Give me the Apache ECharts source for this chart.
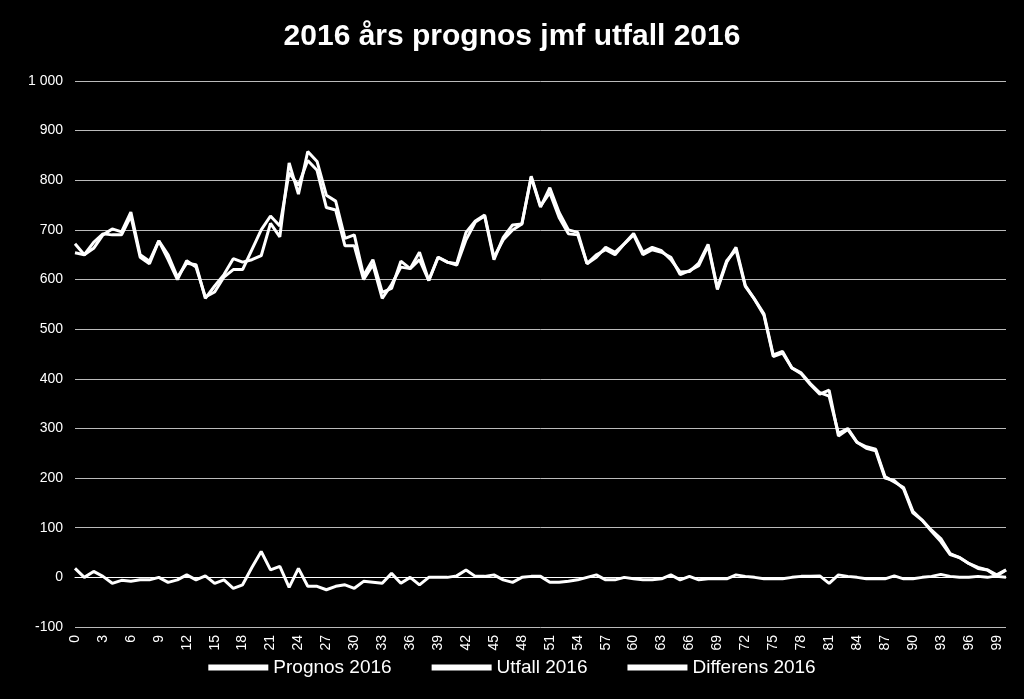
<!DOCTYPE html>
<html><head><meta charset="utf-8">
<script src="https://cdn.jsdelivr.net/npm/echarts@6/dist/echarts.min.js"></script>
<style>html,body{margin:0;background:#000}#c{width:1024px;height:699px}</style>
</head><body><div id="c"></div>
<script>
var categories = [];
for (var i = 0; i <= 100; i++) categories.push(String(i));

var prognos = [654,650,663,690,702,696,736,650,637,678,650,605,633,630,562,587,610,642,635,640,
  648,713,686,835,772,858,838,770,758,683,690,608,640,574,582,637,622,655,598,645,
  635,629,680,716,728,640,685,710,712,806,746,785,735,700,695,632,645,665,655,672,
  693,655,665,658,640,615,616,633,671,583,638,660,586,560,531,448,455,422,410,388,
  369,377,285,298,272,263,258,203,192,181,133,115,93,72,46,40,28,18,15,2,0];
var utfall = [672,650,675,692,690,690,728,645,632,678,640,600,638,625,565,575,605,620,620,660,
  700,728,708,815,790,840,820,745,740,668,668,600,630,562,590,625,622,640,598,645,
  635,632,695,718,730,645,680,700,712,808,748,775,725,692,690,632,650,660,650,672,
  690,650,660,655,645,610,618,628,668,580,635,665,588,560,528,445,452,422,412,390,
  372,365,290,300,272,260,255,200,195,178,130,115,95,78,48,40,28,20,15,5,15];
var differens = [18,0,12,2,-12,-6,-8,-5,-5,0,-10,-5,5,-5,3,-12,-5,-22,-15,20,
  52,15,22,-20,18,-18,-18,-25,-18,-15,-22,-8,-10,-12,8,-12,0,-15,0,0,
  0,3,15,2,2,5,-5,-10,0,2,2,-10,-10,-8,-5,0,5,-5,-5,0,
  -3,-5,-5,-3,5,-5,2,-5,-3,-3,-3,5,2,0,-3,-3,-3,0,2,2,
  3,-12,5,2,0,-3,-3,-3,3,-3,-3,0,2,6,2,0,0,2,0,3,15];
var yTicks = [-100, 1000, 100];

var chart = echarts.init(document.getElementById('c'));
var font = 'Liberation Sans';
function line(name, data) {
  return { name: name, type: 'line', data: data, symbol: 'none',
    lineStyle: { color: '#fff', width: 3 }, itemStyle: { color: '#fff' } };
}
chart.setOption({
  backgroundColor: '#000',
  animation: false,
  title: { text: '2016 års prognos jmf utfall 2016', left: 'center', top: 17,
    textStyle: { color: '#fff', fontSize: 30, fontWeight: 'bold', fontFamily: font } },
  legend: { bottom: 17, itemWidth: 60, itemGap: 40, icon: 'path://M0,0H10V1H0Z',
    textStyle: { color: '#fff', fontSize: 19, fontFamily: font },
    data: ['Prognos 2016', 'Utfall 2016', 'Differens 2016'] },
  grid: { left: 75, right: 18, top: 81, bottom: 72 },
  xAxis: { type: 'category', data: categories, boundaryGap: false,
    axisLine: { lineStyle: { color: '#fff' } }, axisTick: { show: false },
    axisLabel: { color: '#fff', rotate: 90, interval: 2, fontSize: 14, fontFamily: font } },
  yAxis: { type: 'value', min: yTicks[0], max: yTicks[1], interval: yTicks[2],
    splitLine: { lineStyle: { color: '#bbb', width: 1 } },
    axisLabel: { color: '#fff', fontSize: 14, fontFamily: font, margin: 12,
      formatter: function (v) { return v >= 1000 ? '1 000' : String(v); } } },
  series: [line('Prognos 2016', prognos), line('Utfall 2016', utfall), line('Differens 2016', differens)]
});
</script></body></html>
